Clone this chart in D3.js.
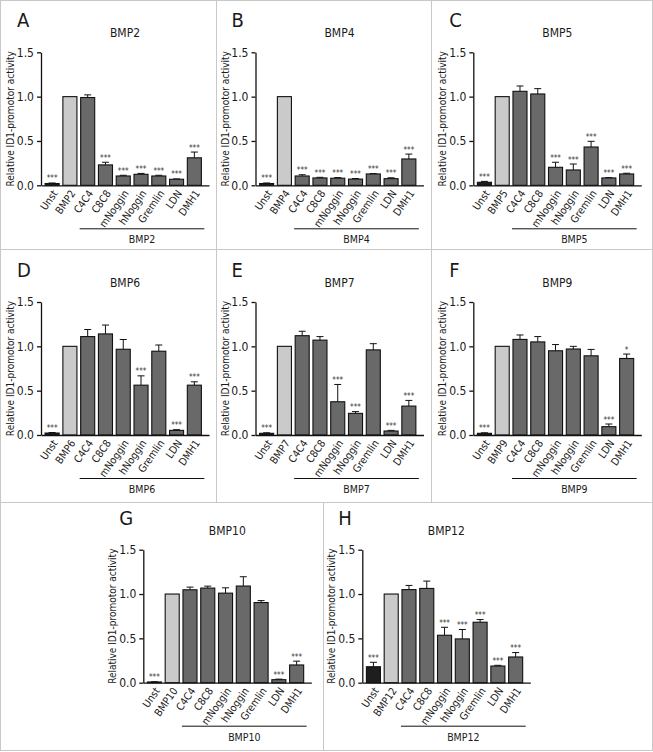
<!DOCTYPE html>
<html>
<head>
<meta charset="utf-8">
<script src="https://cdn.jsdelivr.net/npm/d3@7"></script>
<style>
  body { margin: 0; background: #fff; }
  svg text { font-family: "DejaVu Sans Condensed", "DejaVu Sans", sans-serif; fill: #1a1a1a; }
</style>
</head>
<body>
<div id="main"></div>
<script>
// ---- data ----
const panelLetters = ['A', 'B', 'C', 'D', 'E', 'F', 'G', 'H'];
const ligands = ['BMP2', 'BMP4', 'BMP5', 'BMP6', 'BMP7', 'BMP9', 'BMP10', 'BMP12'];
const inhibitors = ['C4C4', 'C8C8', 'mNoggin', 'hNoggin', 'Gremlin', 'LDN', 'DMH1'];
const yTicks = [0, 0.5, 1.0, 1.5];
const yLabel = 'Relative ID1-promotor activity';

// means: Unst, ligand, then inhibitors in order
const meanBMP2  = [0.02, 1.0, 0.99, 0.23, 0.105, 0.124, 0.105, 0.068, 0.31];
const meanBMP4  = [0.02, 1.0, 0.105, 0.083, 0.08, 0.07, 0.128, 0.075, 0.297];
const meanBMP5  = [0.034, 1.0, 1.06, 1.03, 0.203, 0.173, 0.432, 0.083, 0.128];
const meanBMP6  = [0.022, 1.0, 1.11, 1.14, 0.967, 0.562, 0.945, 0.052, 0.562];
const meanBMP7  = [0.019, 1.0, 1.12, 1.07, 0.375, 0.244, 0.96, 0.045, 0.326];
const meanBMP9  = [0.019, 1.0, 1.078, 1.05, 0.95, 0.97, 0.893, 0.094, 0.863];
const meanBMP10 = [0.008, 1.0, 1.048, 1.067, 1.01, 1.09, 0.904, 0.034, 0.2];
const meanBMP12 = [0.18, 1.0, 1.05, 1.063, 0.535, 0.494, 0.682, 0.188, 0.29];

const errBMP2  = [0.006, 0, 0.03, 0.03, 0.008, 0.01, 0.008, 0.004, 0.065];
const errBMP4  = [0.006, 0, 0.014, 0.007, 0.007, 0.006, 0.004, 0.01, 0.055];
const errBMP5  = [0.01, 0, 0.06, 0.06, 0.057, 0.067, 0.064, 0.004, 0.008];
const errBMP6  = [0.006, 0, 0.08, 0.1, 0.11, 0.105, 0.07, 0.008, 0.038];
const errBMP7  = [0.006, 0, 0.05, 0.04, 0.195, 0.02, 0.07, 0.007, 0.064];
const errBMP9  = [0.006, 0, 0.05, 0.06, 0.07, 0.03, 0.072, 0.03, 0.05];
const errBMP10 = [0.003, 0, 0.03, 0.022, 0.06, 0.105, 0.022, 0.006, 0.043];
const errBMP12 = [0.05, 0, 0.047, 0.083, 0.09, 0.106, 0.03, 0.008, 0.05];

const starsBMP2  = ['***', '', '', '***', '***', '***', '***', '***', '***'];
const starsBMP4  = ['***', '', '***', '***', '***', '***', '***', '***', '***'];
const starsBMP5  = ['***', '', '', '', '***', '***', '***', '***', '***'];
const starsBMP6  = ['***', '', '', '', '', '***', '', '***', '***'];
const starsBMP7  = ['***', '', '', '', '***', '***', '', '***', '***'];
const starsBMP9  = ['***', '', '', '', '', '', '', '***', '*'];
const starsBMP10 = ['***', '', '', '', '', '', '', '***', '***'];
const starsBMP12 = ['***', '', '', '', '***', '***', '***', '***', '***'];

const means = [meanBMP2, meanBMP4, meanBMP5, meanBMP6, meanBMP7, meanBMP9, meanBMP10, meanBMP12];
const errs  = [errBMP2, errBMP4, errBMP5, errBMP6, errBMP7, errBMP9, errBMP10, errBMP12];
const stars = [starsBMP2, starsBMP4, starsBMP5, starsBMP6, starsBMP7, starsBMP9, starsBMP10, starsBMP12];

// ---- layout ----
const W = 653, H = 752,
      pw = 168, ph = 133,
      lineColor = '#c8c8c8',
      barDark = '#696969',
      barLight = '#cacaca';

// axis origin (y axis x, baseline y) for each panel
const origins = [
    [41, 185.3], [255.5, 185.3], [473.3, 185.3],
    [41, 435], [255.5, 435], [473.3, 435],
    [143.3, 682.7], [362.3, 682.7]
];

const svg = d3.select('#main')
    .append('svg')
    .attr('width', W)
    .attr('height', H);

// panel frames
const frame = svg.append('g')
    .attr('stroke', lineColor)
    .attr('stroke-width', 1)
    .attr('fill', 'none');
frame.append('rect').attr('x', 0.5).attr('y', 0.5).attr('width', W - 1).attr('height', H - 2);
[[0, 249.5, W, 249.5], [0, 502.5, W, 502.5],
 [216.5, 0, 216.5, 502], [431.5, 0, 431.5, 502], [323.5, 502, 323.5, H - 1]]
    .forEach(l => frame.append('line')
        .attr('x1', l[0]).attr('y1', l[1]).attr('x2', l[2]).attr('y2', l[3]));

const y = d3.scaleLinear().domain([0, 1.5]).range([ph, 0]);

ligands.forEach(function(lig, p) {
    const cats = ['Unst', lig].concat(inhibitors);
    const data = cats.map((c, i) => ({cat: c, v: means[p][i], e: errs[p][i], s: stars[p][i], i: i}));

    const x = d3.scaleBand()
        .domain(cats)
        .range([0, pw])
        .paddingInner(0.21)
        .paddingOuter(0.33)
        .align(0.35);
    const bw = x.bandwidth();

    const g = svg.append('g')
        .attr('transform', 'translate(' + origins[p][0] + ',' + (origins[p][1] - ph) + ')');

    // panel letter + title
    g.append('text')
        .text(panelLetters[p])
        .attr('x', -24)
        .attr('y', ph - 158)
        .attr('font-size', 20);
    g.append('text')
        .text(lig)
        .attr('x', pw / 2)
        .attr('y', ph - 148)
        .attr('text-anchor', 'middle')
        .attr('font-size', 12);

    // error bars (upper whisker only)
    const eb = g.selectAll('.err')
        .data(data.filter(d => d.e > 0))
        .enter()
        .append('g')
        .attr('stroke', '#111')
        .attr('stroke-width', 1);
    eb.append('line')
        .attr('x1', d => x(d.cat) + bw / 2)
        .attr('x2', d => x(d.cat) + bw / 2)
        .attr('y1', d => y(d.v))
        .attr('y2', d => y(d.v + d.e));
    eb.append('line')
        .attr('x1', d => x(d.cat) + bw / 2 - 3.5)
        .attr('x2', d => x(d.cat) + bw / 2 + 3.5)
        .attr('y1', d => y(d.v + d.e))
        .attr('y2', d => y(d.v + d.e));

    // bars
    g.selectAll('rect.bar')
        .data(data)
        .enter()
        .append('rect')
        .attr('class', 'bar')
        .attr('x', d => x(d.cat))
        .attr('width', bw)
        .attr('y', d => y(d.v))
        .attr('height', d => y(0) - y(d.v))
        .attr('fill', d => d.i === 0 ? '#1e1e1e' : (d.i === 1 ? barLight : barDark))
        .attr('stroke', '#111')
        .attr('stroke-width', 1.1);

    // significance stars
    g.selectAll('text.star')
        .data(data.filter(d => d.s))
        .enter()
        .append('text')
        .attr('class', 'star')
        .text(d => d.s)
        .attr('x', d => x(d.cat) + bw / 2)
        .attr('y', d => y(d.v + d.e) - 1.5)
        .attr('text-anchor', 'middle')
        .attr('font-size', 8)
        .style('fill', '#333');

    // axes
    const yAxis = d3.axisLeft(y)
        .tickValues(yTicks)
        .tickFormat(d3.format('.1f'))
        .tickSize(4)
        .tickSizeOuter(0);
    const ya = g.append('g').call(yAxis);
    ya.selectAll('text').attr('font-size', 12).attr('font-family', null);
    ya.selectAll('line, path').attr('stroke', '#111').attr('stroke-width', 1.3);

    const xAxis = d3.axisBottom(x).tickSize(0).tickSizeOuter(0);
    const xa = g.append('g')
        .attr('transform', 'translate(0,' + ph + ')')
        .call(xAxis);
    xa.select('path').attr('stroke', '#111').attr('stroke-width', 1.3);
    xa.selectAll('text')
        .attr('font-size', 10.5)
        .attr('font-family', null)
        .attr('text-anchor', 'end')
        .attr('x', 0)
        .attr('y', 0)
        .attr('dy', '0.35em')
        .attr('transform', 'translate(3,6) rotate(-55)');

    // y axis title
    g.append('text')
        .text(yLabel)
        .attr('transform', 'translate(-27,' + (ph / 2) + ') rotate(-90)')
        .attr('text-anchor', 'middle')
        .attr('font-size', 10);

    // stimulation bracket under the inhibitor group
    const lx1 = x('C4C4') - 1, lx2 = x('DMH1') + bw + 3;
    g.append('line')
        .attr('x1', lx1).attr('x2', lx2)
        .attr('y1', ph + 43.5).attr('y2', ph + 43.5)
        .attr('stroke', '#111')
        .attr('stroke-width', 1);
    g.append('text')
        .text(lig)
        .attr('x', (lx1 + lx2) / 2)
        .attr('y', ph + 58)
        .attr('text-anchor', 'middle')
        .attr('font-size', 10.5);
});
</script>
</body>
</html>
